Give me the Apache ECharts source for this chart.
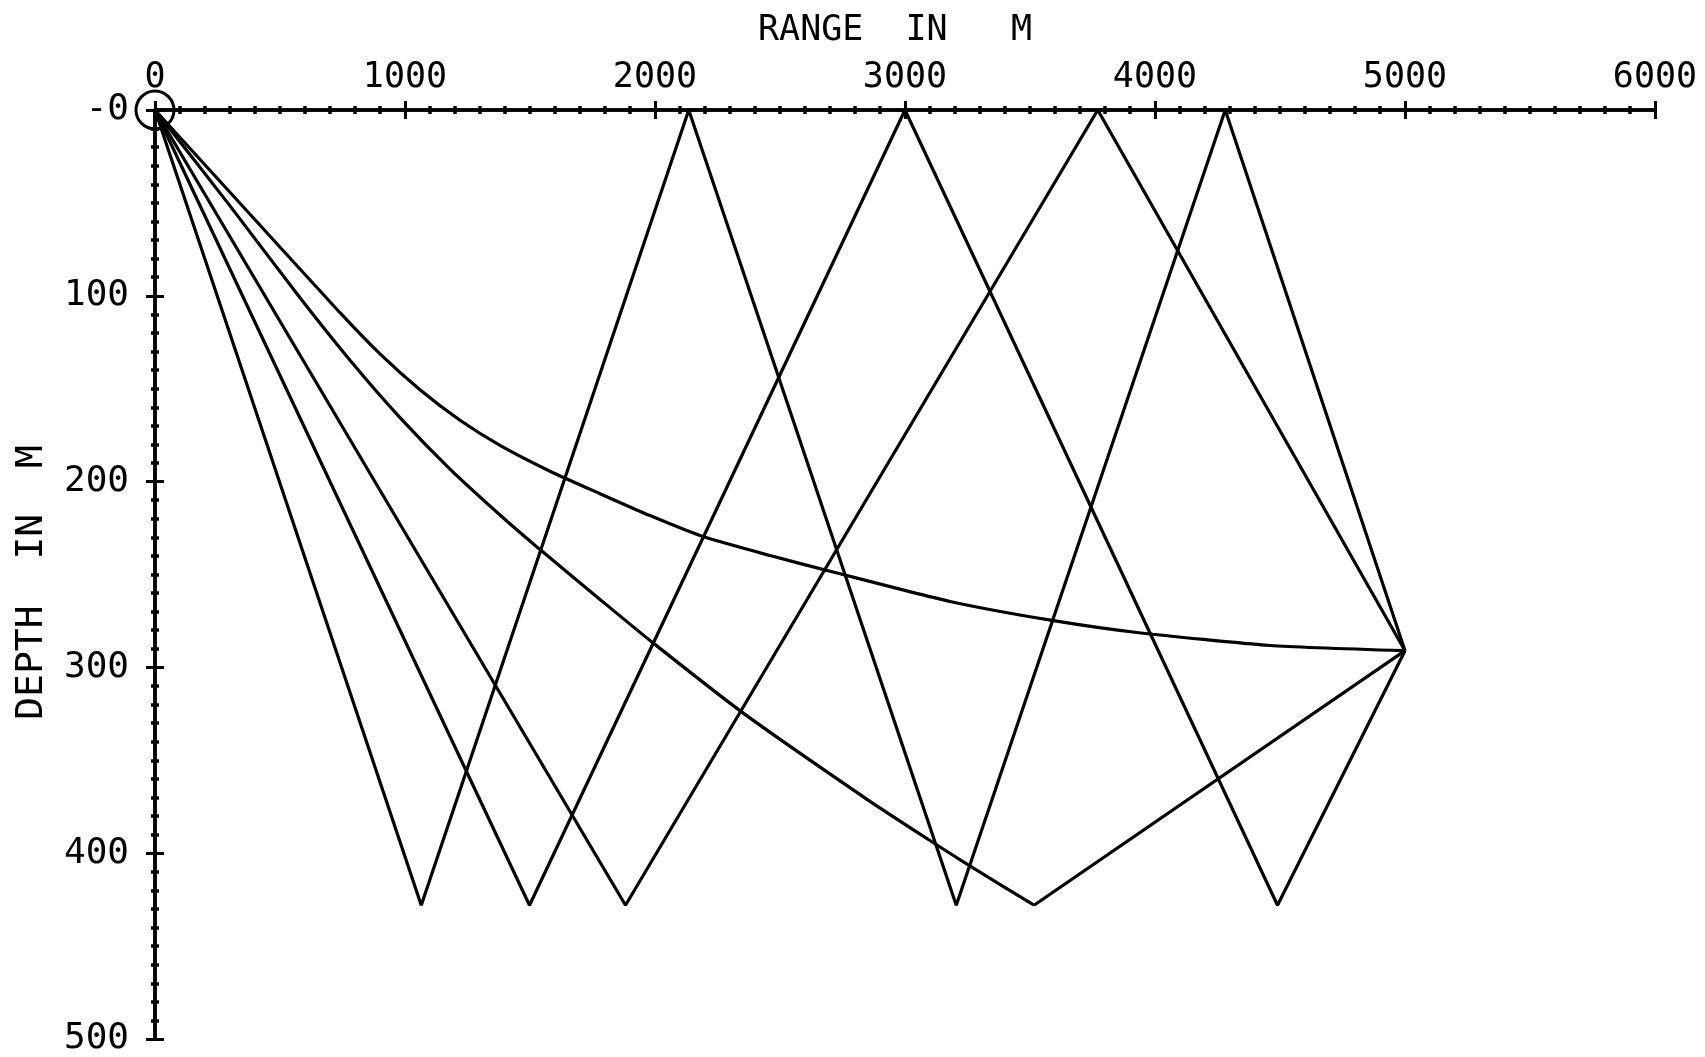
<!DOCTYPE html>
<html><head><meta charset="utf-8">
<script src="https://cdn.jsdelivr.net/npm/echarts@6/dist/echarts.min.js"></script>
<style>html,body{margin:0;padding:0;background:#fff}#c{width:1705px;height:1057px}</style>
</head><body><div id="c"></div>
<script>
// Axis ranges and tick labels
const xRange = [0, 6000];
const xStep = 1000;
const yRange = [0, 500];
const yStep = 100;
const yZeroLabel = '-0';
const xTitle = 'RANGE  IN   M';
const yTitle = 'DEPTH  IN  M';

// Source (circle)
const sourcePoint = [[0, 0]];

// Rays (range m, depth m)
const rayA = [[0,0],[1065,428],[2135,0],[3205,428],[4281,0],[5000,291]];
const rayB = [[0,0],[1498,428],[3000,0],[4490,428],[5000,291]];
const rayC = [[0,0],[1882,428],[3771,0],[5000,291]];
const rayDCurve = [[0,0],[300,51.6],[580,101.1],[780,134.7],[980,165.6],[1180,193.3],[1380,218.0],[1540,236.6],[1780,263.4],[1992,286.8],[2360,325.3],[2848,371.0],[3092,392.5],[3248,405.9],[3516,428]];
const rayDUp = [[3516,428],[5000,291]];
const rayE = [[0,0],[380,56.1],[740,109.1],[900,131.3],[1060,150.6],[1220,167.0],[1380,180.5],[1580,194.4],[1780,206.5],[1980,218.3],[2192,229.6],[2460,239.8],[2720,248.9],[3180,264.5],[3588,274.7],[3928,281.2],[4460,288.2],[5000,291]];

const FONT = 'DejaVu Sans Mono';
const chart = echarts.init(document.getElementById('c'), null, {renderer: 'canvas'});

function lineSeries(data, smooth) {
  return {
    type: 'line', data: data, xAxisIndex: 0, yAxisIndex: 0,
    showSymbol: false, symbol: 'none', smooth: smooth ? 0.2 : false,
    lineStyle: {color: '#000', width: 3.2}, silent: true, z: 3
  };
}

const axisLineStyle = {show: true, lineStyle: {color: '#000', width: 3.5}};
const majorTick = (inside) => ({show: true, inside: inside, length: 9, lineStyle: {color: '#000', width: 3}});
const minorTick = {show: true, splitNumber: 10, length: 4, lineStyle: {color: '#000', width: 3.5}};

chart.setOption({
  animation: false,
  backgroundColor: '#fff',
  grid: {left: 155, right: 50, top: 110, bottom: 17, containLabel: false},
  xAxis: [
    {
      type: 'value', position: 'top', min: xRange[0], max: xRange[1], interval: xStep,
      axisLine: axisLineStyle, axisTick: majorTick(false), minorTick: minorTick,
      axisLabel: {show: true, margin: 15, color: '#000', fontFamily: FONT, fontSize: 35,
        formatter: v => String(v)},
      splitLine: {show: false}, minorSplitLine: {show: false},
      name: xTitle, nameLocation: 'middle', nameGap: 62,
      nameTextStyle: {color: '#000', fontFamily: FONT, fontSize: 35, padding: [0, 20, 0, 0]}
    },
    {
      type: 'value', position: 'top', min: xRange[0], max: xRange[1], interval: xStep,
      axisLine: axisLineStyle, axisTick: majorTick(true), minorTick: minorTick,
      axisLabel: {show: false}, splitLine: {show: false}
    }
  ],
  yAxis: [
    {
      type: 'value', position: 'left', inverse: true, min: yRange[0], max: yRange[1], interval: yStep,
      axisLine: axisLineStyle, axisTick: majorTick(false), minorTick: minorTick,
      axisLabel: {show: true, margin: 26, color: '#000', fontFamily: FONT, fontSize: 36,
        formatter: v => v === 0 ? yZeroLabel : String(v)},
      splitLine: {show: false},
      name: yTitle, nameLocation: 'middle', nameGap: 104, nameRotate: 90,
      nameTextStyle: {color: '#000', fontFamily: FONT, fontSize: 38, padding: [0, 16, 0, 0]}
    },
    {
      type: 'value', position: 'left', inverse: true, min: yRange[0], max: yRange[1], interval: yStep,
      axisLine: axisLineStyle, axisTick: majorTick(true), minorTick: minorTick,
      axisLabel: {show: false}, splitLine: {show: false}
    }
  ],
  series: [
    lineSeries(rayA, false),
    lineSeries(rayB, false),
    lineSeries(rayC, false),
    lineSeries(rayDCurve, true),
    lineSeries(rayDUp, false),
    lineSeries(rayE, true),
    {
      type: 'scatter', data: sourcePoint, xAxisIndex: 0, yAxisIndex: 0,
      symbol: 'circle', symbolSize: 38, silent: true, z: 4,
      itemStyle: {color: 'rgba(0,0,0,0)', borderColor: '#000', borderWidth: 3, opacity: 1}
    }
  ]
});
</script></body></html>
